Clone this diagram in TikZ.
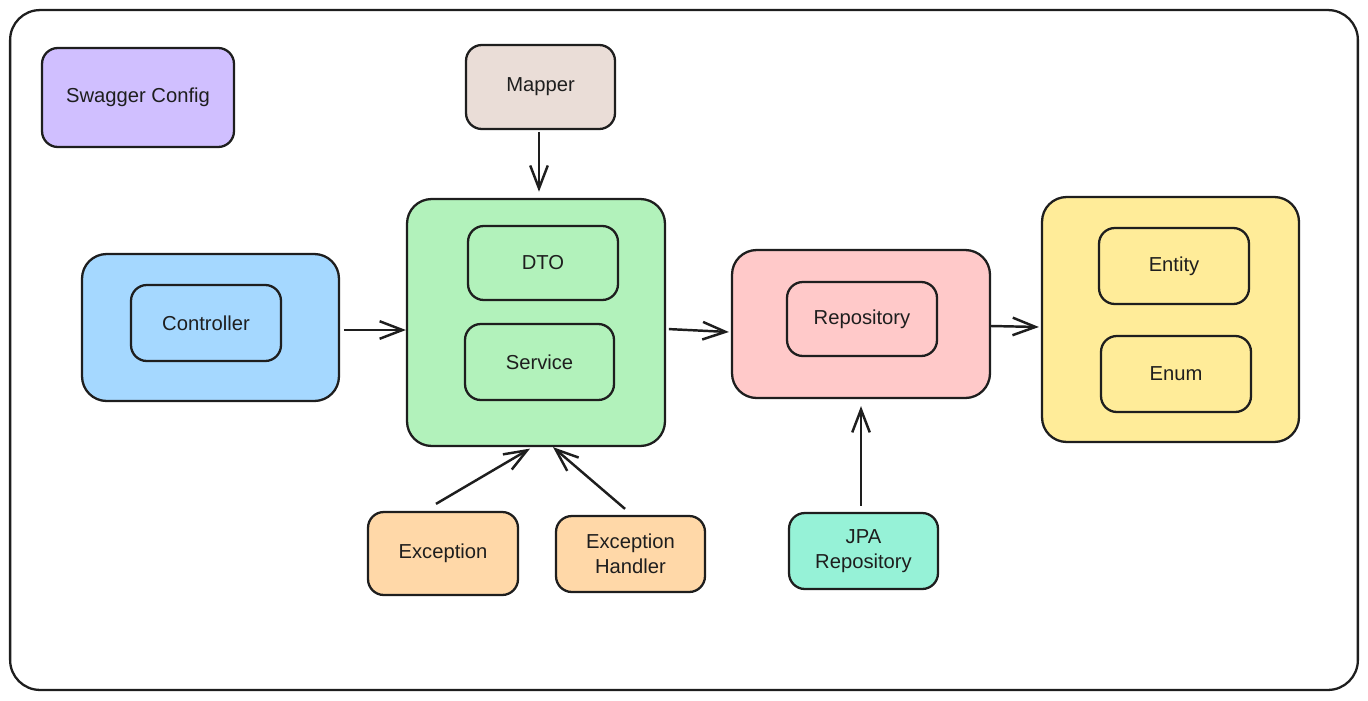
\documentclass[tikz,border=0pt]{standalone}
\usepackage{fontspec}
\setmainfont{Liberation Sans}
\usetikzlibrary{arrows.meta,calc}
\definecolor{cpurple}{HTML}{D0BFFF}
\definecolor{cbrown}{HTML}{EADDD7}
\definecolor{cblue}{HTML}{A5D8FF}
\definecolor{cgreen}{HTML}{B2F2BB}
\definecolor{cpink}{HTML}{FFC9C9}
\definecolor{cyellow}{HTML}{FFEC99}
\definecolor{corange}{HTML}{FFD8A8}
\definecolor{cteal}{HTML}{96F2D7}
\definecolor{cink}{HTML}{1E1E1E}
\begin{document}
\begin{tikzpicture}[x=0.02cm,y=-0.02cm,
  box/.style={draw=cink,line width=1.3pt,rounded corners=9pt,inner sep=0pt,align=center,font=\fontsize{11.5}{14}\selectfont,text=cink},
  bigbox/.style={box,rounded corners=14pt},
  conn/.style={draw=cink,line width=1.4pt,-{Straight Barb[length=13pt,width=10pt,line width=1.4pt]}}]
\useasboundingbox (0,0) rectangle (1368,700);
\node[draw=cink,line width=1.3pt,rounded corners=17pt,minimum width=26.96cm,minimum height=13.6cm,inner sep=0pt] (frame) at (684,350) {};
% boxes
\node[box,fill=cpurple,minimum width=3.84cm,minimum height=1.98cm] (swag) at (138,97.5) {Swagger Config};
\node[box,fill=cbrown,minimum width=2.98cm,minimum height=1.68cm] (mapper) at (540.5,87) {Mapper};
\node[bigbox,fill=cgreen,minimum width=5.16cm,minimum height=4.94cm] (svc) at (536,322.5) {};
\node[box,fill=cgreen,minimum width=3.0cm,minimum height=1.48cm] (dto) at (543,263) {DTO};
\node[box,fill=cgreen,minimum width=2.98cm,minimum height=1.52cm] (service) at (539.5,362) {Service};
\node[bigbox,fill=cblue,minimum width=5.14cm,minimum height=2.94cm] (ctrlbox) at (210.5,327.5) {};
\node[box,fill=cblue,minimum width=3.0cm,minimum height=1.52cm] (ctrl) at (206,323) {Controller};
\node[bigbox,fill=cpink,minimum width=5.16cm,minimum height=2.96cm] (repobox) at (861,324) {};
\node[box,fill=cpink,minimum width=3.0cm,minimum height=1.48cm] (repo) at (862,319) {Repository};
\node[bigbox,fill=cyellow,minimum width=5.14cm,minimum height=4.9cm] (model) at (1170.5,319.5) {};
\node[box,fill=cyellow,minimum width=3.0cm,minimum height=1.52cm] (entity) at (1174,266) {Entity};
\node[box,fill=cyellow,minimum width=3.0cm,minimum height=1.52cm] (enum) at (1176,374) {Enum};
\node[box,fill=corange,minimum width=3.0cm,minimum height=1.66cm] (exc) at (443,553.5) {Exception};
\node[box,fill=corange,minimum width=2.98cm,minimum height=1.52cm] (exh) at (630.5,554) {Exception\\Handler};
\node[box,fill=cteal,minimum width=2.98cm,minimum height=1.52cm] (jpa) at (863.5,551) {JPA\\Repository};
% connectors
\draw[conn,shorten <=1pt,shorten >=3.5pt] (mapper.south -| 539,0) -- (svc.north -| 539,0);
\draw[conn,shorten <=1pt] ($(ctrlbox.east)+(2,2.5)$) -- ($(svc.west)+(0,7.5)$);
\draw[conn,shorten <=1pt] ($(svc.east)+(1,6.5)$) -- ($(repobox.west)+(-2,8)$);
\draw[conn] ($(repobox.east)+(0,2)$) -- ($(model.west)+(-2,7.5)$);
\draw[conn] ($(jpa.north)+(-2.5,-6)$) -- ($(repobox.south)+(0,7)$);
\draw[conn] ($(exc.north)+(-7,-7)$) -- ($(svc.south)+(-6,1.5)$);
\draw[conn] ($(exh.north)+(-5.5,-6)$) -- ($(svc.south)+(17,0)$);
\end{tikzpicture}
\end{document}
